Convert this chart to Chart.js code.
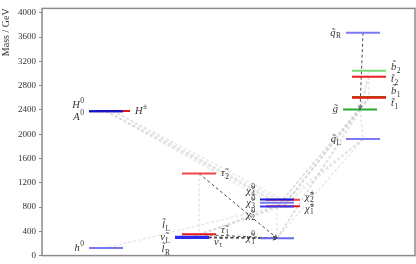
<!DOCTYPE html>
<html>
<head>
<meta charset="utf-8">
<script src="https://cdn.jsdelivr.net/npm/chart.js@4.4.0/dist/chart.umd.min.js"></script>
<style>
  html, body { margin: 0; padding: 0; background: #fff; }
  #wrap { width: 416px; height: 264px; }
</style>
</head>
<body>
<div id="wrap"><canvas id="chart"></canvas></div>
<script>
// Particles of the spectrum (masses in GeV)
const names   = ['h0', 'H0', 'A0', 'Hpm', 'lL', 'nuL', 'lR', 'tau1', 'nutau', 'tau2',
                 'N1', 'N2', 'N3', 'N4', 'C1', 'C2', 'qL', 'qR', 'go', 't1', 'b1', 't2', 'b2'];
const masses  = [125, 2380, 2380, 2382, 312, 302, 292, 350, 298, 1353,
                 287, 810, 872, 925, 812, 922, 1920, 3672, 2409, 2602, 2613, 2947, 3045];
const columns = ['higgs', 'higgs', 'higgs', 'higgs', 'slep', 'slep', 'slep', 'slep', 'slep', 'slep',
                 'ino', 'ino', 'ino', 'ino', 'ino', 'ino', 'sq', 'sq', 'sq', 'sq', 'sq', 'sq', 'sq'];

// Decays drawn as dashed lines (parent -> child), 1 = dominant (dark with arrow)
const decayFrom = ['qR', 'tau2', 'lL', 'lR', 'nuL', 'tau1',
                   'H0', 'H0', 'A0', 'Hpm', 'Hpm', 'go', 'go', 'go', 'go', 'qL', 'qL', 'qL',
                   't1', 't1', 'b1', 'b1', 'b2', 't2', 't2', 'tau2', 'N2', 'N2', 'C1', 'N3', 'N2'];
const decayTo   = ['go', 'N1', 'N1', 'N1', 'N1', 'N1',
                   'N2', 'N3', 'N4', 'C1', 'C2', 'qL', 'N1', 'N2', 'C1', 'N2', 'C1', 'N1',
                   'C1', 'N1', 'N2', 'C1', 'go', 'go', 't1', 'tau1', 'lL', 'lR', 'nuL', 'N1', 'h0'];
const decayMain = [1, 1, 1, 1, 1, 1,
                   0, 0, 0, 0, 0, 0, 0, 0, 0, 0, 0, 0,
                   0, 0, 0, 0, 0, 0, 0, 0, 0, 0, 0, 0, 0];

// Y axis tick labels
const yTicks = [0, 400, 800, 1200, 1600, 2000, 2400, 2800, 3200, 3600, 4000];

// ---- layout / style ----
const colCentre = { higgs: 64, slep: 150, ino: 235, sq: 321 };
const shift = { Hpm: 7, tau1: 7, tau2: 7, C1: 6, C2: 6, go: -3, t1: 6, b1: 6, t2: 6, b2: 6 };
const halfW = 17;
const colours = {
  h0: '#7878ee', H0: '#1414c8', A0: '#1414c8', Hpm: '#e01818',
  lL: '#2a2af2', nuL: '#2a2af2', lR: '#2a2af2', nutau: '#3a3af2', tau1: '#e81818', tau2: '#f04848',
  N1: '#6a6af0', N2: '#3838f0', N3: '#7878f0', N4: '#1818d8', C1: '#e01818', C2: '#f04040',
  qL: '#7a7af5', qR: '#7a7af5', go: '#22aa33', t1: '#e01818', b1: '#a05800', t2: '#e82020', b2: '#78d878'
};
const labels = {
  h0: { b: 'h', sup: '0' }, H0: { b: 'H', sup: '0' }, A0: { b: 'A', sup: '0' }, Hpm: { b: 'H', sup: '±' },
  lL: { b: 'l', t: 1, sub: 'L' }, nuL: { b: 'ν', t: 1, sub: 'L' }, lR: { b: 'l', t: 1, sub: 'R' },
  tau1: { b: 'τ', t: 1, sub: '1' }, nutau: { b: 'ν', t: 1, sub: 'τ' }, tau2: { b: 'τ', t: 1, sub: '2' },
  N1: { b: 'χ', t: 1, sup: '0', sub: '1' }, N2: { b: 'χ', t: 1, sup: '0', sub: '2' },
  N3: { b: 'χ', t: 1, sup: '0', sub: '3' }, N4: { b: 'χ', t: 1, sup: '0', sub: '4' },
  C1: { b: 'χ', t: 1, sup: '±', sub: '1' }, C2: { b: 'χ', t: 1, sup: '±', sub: '2' },
  qL: { b: 'q', t: 1, sub: 'L' }, qR: { b: 'q', t: 1, sub: 'R' }, go: { b: 'g', t: 1 },
  t1: { b: 't', t: 1, sub: '1' }, b1: { b: 'b', t: 1, sub: '1' }, t2: { b: 't', t: 1, sub: '2' }, b2: { b: 'b', t: 1, sub: '2' }
};
const rightSide = ['Hpm', 'tau1', 'nutau', 'tau2', 'C1', 'C2', 't1', 'b1', 't2', 'b2'];
const serif = '"Liberation Serif", "DejaVu Serif", serif';

function idx(n) { return names.indexOf(n); }
function xc(n) { return colCentre[columns[idx(n)]] + (shift[n] || 0); }
function mass(n) { return masses[idx(n)]; }

// Level lines
const levelSets = names.map((n, i) => ({
  data: [{ x: xc(n) - halfW, y: masses[i] }, { x: xc(n) + halfW, y: masses[i] }],
  borderColor: colours[n],
  borderWidth: 2,
  pointRadius: 0,
  order: 0
}));

// Decay lines
const decaySets = decayFrom.map((f, i) => {
  const t = decayTo[i];
  const main = decayMain[i] === 1;
  return {
    data: [{ x: xc(f), y: mass(f) }, { x: xc(t), y: mass(t) }],
    borderColor: main ? '#4a4a4a' : 'rgba(200,200,200,0.4)',
    borderWidth: main ? 1 : 1.6,
    borderDash: main ? [3, 2.5] : [3, 2],
    pointRadius: 0,
    order: main ? 1 : 2,
    main: main
  };
});

// Labels, arrowheads and frame
const spectrumPlugin = {
  id: 'spectrum',
  afterDatasetsDraw(chart) {
    const c = chart.ctx, xs = chart.scales.x, ys = chart.scales.y, a = chart.chartArea;

    // arrowheads on dominant decays
    c.save();
    c.strokeStyle = '#4a4a4a';
    c.lineWidth = 1;
    decaySets.forEach(ds => {
      if (!ds.main) return;
      const p0 = ds.data[0], p1 = ds.data[1];
      const x0 = xs.getPixelForValue(p0.x), y0 = ys.getPixelForValue(p0.y);
      const x1 = xs.getPixelForValue(p1.x), y1 = ys.getPixelForValue(p1.y);
      const ang = Math.atan2(y1 - y0, x1 - x0);
      c.beginPath();
      c.moveTo(x1 - 4 * Math.cos(ang - 0.45), y1 - 4 * Math.sin(ang - 0.45));
      c.lineTo(x1, y1);
      c.lineTo(x1 - 4 * Math.cos(ang + 0.45), y1 - 4 * Math.sin(ang + 0.45));
      c.stroke();
    });
    c.restore();

    // label positions, grouped per column and side, spread so they do not overlap
    const groups = {};
    names.forEach((n, i) => {
      const side = rightSide.includes(n) ? 'r' : 'l';
      const key = columns[i] + side;
      (groups[key] = groups[key] || []).push({ n: n, side: side, y: ys.getPixelForValue(masses[i]) });
    });
    const gap = 12;
    Object.values(groups).forEach(g => {
      g.forEach(o => o.ly = o.y);
      g.sort((p, q) => p.y - q.y);
      for (let k = 0; k < 50; k++) {
        for (let j = 1; j < g.length; j++) {
          const d = g[j].ly - g[j - 1].ly;
          if (d < gap) {
            const m = (gap - d) / 2;
            g[j].ly += m; g[j - 1].ly -= m;
          }
        }
      }
      g.forEach(o => drawLabel(c, o, xs));
    });

    // frame
    c.save();
    c.strokeStyle = '#8a8a8a';
    c.lineWidth = 1.5;
    c.strokeRect(a.left, a.top, a.right - a.left, a.bottom - a.top);
    c.restore();
  }
};

function drawLabel(c, o, xs) {
  const lab = labels[o.n];
  const main = lab.b + (lab.t ? '\u0303' : '');
  c.save();
  c.fillStyle = '#333';
  c.textBaseline = 'middle';
  c.font = 'italic 10.5px ' + serif;
  const bw = c.measureText(main).width;
  c.font = '7.5px ' + serif;
  const sw = Math.max(lab.sup ? c.measureText(lab.sup).width : 0, lab.sub ? c.measureText(lab.sub).width : 0);
  const total = bw + sw + (sw ? 0.5 : 0);
  let x;
  if (o.side === 'l') x = xs.getPixelForValue(xc(o.n) - halfW) - 5 - total;
  else x = xs.getPixelForValue(xc(o.n) + halfW) + 5;
  c.font = 'italic 10.5px ' + serif;
  c.fillText(main, x, o.ly);
  c.font = '7.5px ' + serif;
  if (lab.sup) c.fillText(lab.sup, x + bw + 0.5, o.ly - 4);
  if (lab.sub) c.fillText(lab.sub, x + bw + 0.5, o.ly + 3.5);
  c.restore();
}

const ctx = document.getElementById('chart');

new Chart(ctx, {
  type: 'line',
  data: { datasets: decaySets.concat(levelSets) },
  options: {
    responsive: true,
    maintainAspectRatio: false,
    animation: false,
    layout: { padding: { top: 1, right: 1, bottom: 3, left: 0 } },
    plugins: {
      legend: { display: false },
      tooltip: { enabled: false }
    },
    scales: {
      x: { type: 'linear', min: 0, max: 373, display: false },
      y: {
        min: 0,
        max: 4073,
        afterFit: s => { s.width = 42; },
        afterBuildTicks: s => { s.ticks = yTicks.map(v => ({ value: v })); },
        border: { display: false },
        grid: { drawOnChartArea: false, tickLength: 3, color: '#888' },
        ticks: {
          color: '#333',
          padding: 3,
          font: { family: serif, size: 9 },
          callback: v => String(v)
        },
        title: {
          display: true,
          text: 'Mass / GeV',
          align: 'end',
          color: '#333',
          padding: 0,
          font: { family: serif, size: 10 }
        }
      }
    }
  },
  plugins: [spectrumPlugin]
});
</script>
</body>
</html>
